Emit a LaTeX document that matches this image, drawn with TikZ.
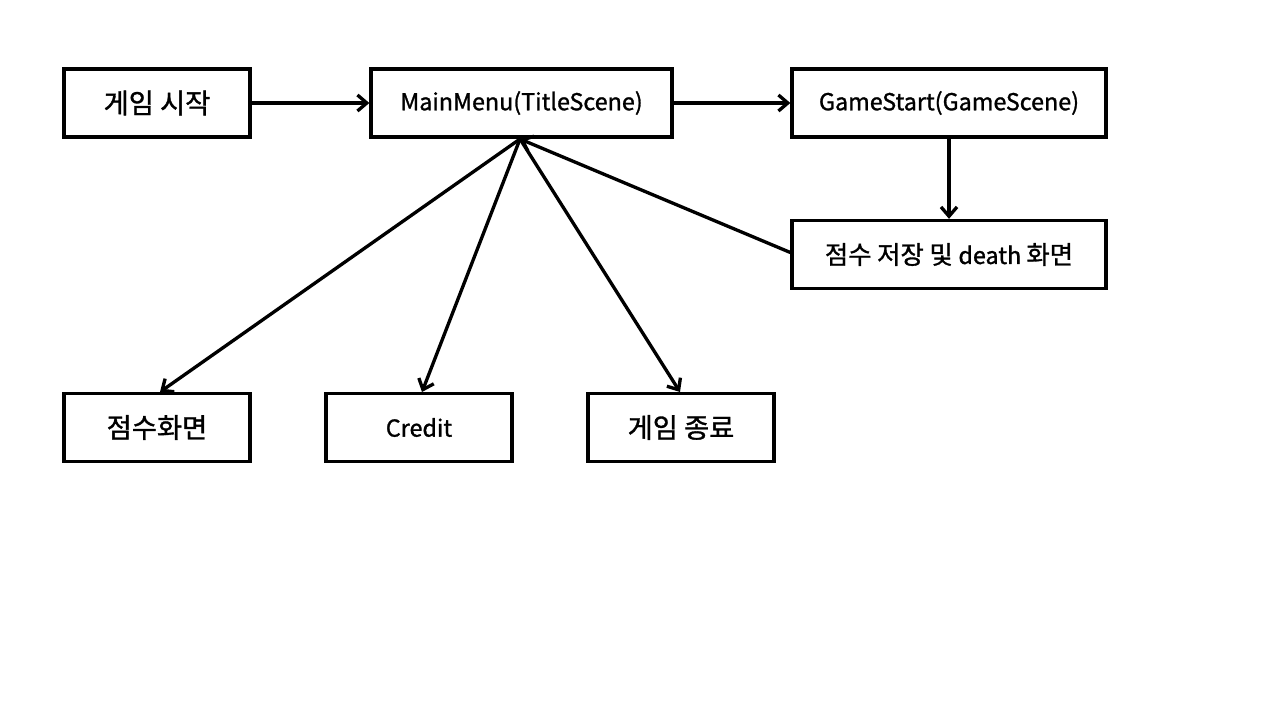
\documentclass[tikz,border=0pt]{standalone}
\usepackage{fontspec}
\setmainfont{Noto Sans CJK KR}[FakeBold=1.2]
\usetikzlibrary{arrows.meta,calc}
\begin{document}
\begin{tikzpicture}[x=0.75pt,y=-0.75pt,
  box/.style={draw,line width=2.5pt,minimum width=#1*0.75pt,minimum height=68*0.75pt,inner sep=0pt,font=\fontsize{20.5pt}{24pt}\selectfont},
  lat/.style={font=\fontsize{17.5pt}{21pt}\selectfont},
  arr/.style={line width=2.5pt,-{Straight Barb[length=7pt,width=12pt,line width=2.5pt]}}]
\useasboundingbox (0,0) rectangle (1280,720);
\node[box=186] (start) at (157,103) {게임 시작};
\node[box=301,lat] (menu) at (521.5,103) {MainMenu(TitleScene)};
\node[box=314,lat] (game) at (949,103) {GameStart(GameScene)};
\node[box=314,lat] (death) at (949,254.5) {\fontsize{19pt}{22pt}\selectfont 점수 저장 및 \fontsize{17.5pt}{21pt}\selectfont death \fontsize{19pt}{22pt}\selectfont 화면};
\node[box=186] (score) at (157,427.5) {점수화면};
\node[box=186,lat] (credit) at (419,427.5) {Credit};
\node[box=186] (quit) at (681,427.5) {게임 종료};
\coordinate (mb) at (520,139);
\coordinate (ts) at (160,392);
\coordinate (tc) at (422,392);
\coordinate (tq) at (680,392);
\draw[arr] (start.east) -- (menu.west);
\draw[arr] (menu.east) -- (game.west);
\draw[arr] (game.south) -- (death.north);
\draw[arr] ($(death.west)+(0,-2)$) -- (mb);
\draw[arr] (mb) -- (ts);
\draw[arr] (mb) -- (tc);
\draw[arr] (mb) -- (tq);
\end{tikzpicture}
\end{document}
